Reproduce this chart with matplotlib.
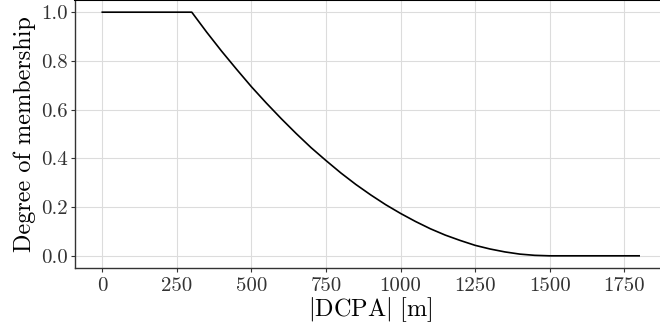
import matplotlib
matplotlib.use("Agg")
import matplotlib.pyplot as plt

plt.rcParams["font.family"] = "serif"
plt.rcParams["font.serif"] = ["cmr10"]
plt.rcParams["mathtext.fontset"] = "cm"
plt.rcParams["axes.unicode_minus"] = False

# membership curve
dcpa = [0, 300, 350, 400, 450, 500, 550, 600, 650, 700, 750, 800, 850, 900,
        950, 1000, 1050, 1100, 1150, 1200, 1250, 1300, 1350, 1400, 1450, 1500, 1800]
membership = [1.0, 1.0, 0.918, 0.840, 0.766, 0.694, 0.627, 0.563, 0.502, 0.444,
              0.391, 0.340, 0.293, 0.250, 0.210, 0.174, 0.141, 0.111, 0.085,
              0.063, 0.043, 0.028, 0.016, 0.007, 0.002, 0.0, 0.0]
x_ticks = [0, 250, 500, 750, 1000, 1250, 1500, 1750]
y_ticks = [0.0, 0.2, 0.4, 0.6, 0.8, 1.0]

fig = plt.figure(figsize=(6.6, 3.33), dpi=100)
ax = fig.add_axes([75 / 660, 65 / 333, 591 / 660, 268 / 333])

ax.plot(dcpa, membership, color="black", lw=1.2, zorder=3)

ax.set_xlim(-91.5, 1890)
ax.set_ylim(-0.05, 1.05)
ax.set_xticks(x_ticks)
ax.set_yticks(y_ticks)
ax.set_yticklabels(["%.1f" % v for v in y_ticks])
ax.grid(True, color="#dcdcdc", lw=0.8)
ax.set_axisbelow(True)

for s in ["left", "bottom"]:
    ax.spines[s].set_color("#333333")
    ax.spines[s].set_linewidth(1.0)
ax.spines["top"].set_color("black")
ax.spines["top"].set_linewidth(1.5)
ax.spines["right"].set_visible(False)

ax.tick_params(axis="both", direction="out", length=3, width=0.8,
               color="#333333", labelsize=15, labelcolor="#333333")
ax.tick_params(axis="x", pad=3.5)
ax.tick_params(axis="y", pad=2)

ax.set_xlabel(r"$|\mathrm{DCPA}|\ [\mathrm{m}]$", fontsize=17.5, labelpad=0)
ax.set_ylabel("Degree of membership", fontsize=17.5, labelpad=4)

fig.savefig("out.png", dpi=100)
